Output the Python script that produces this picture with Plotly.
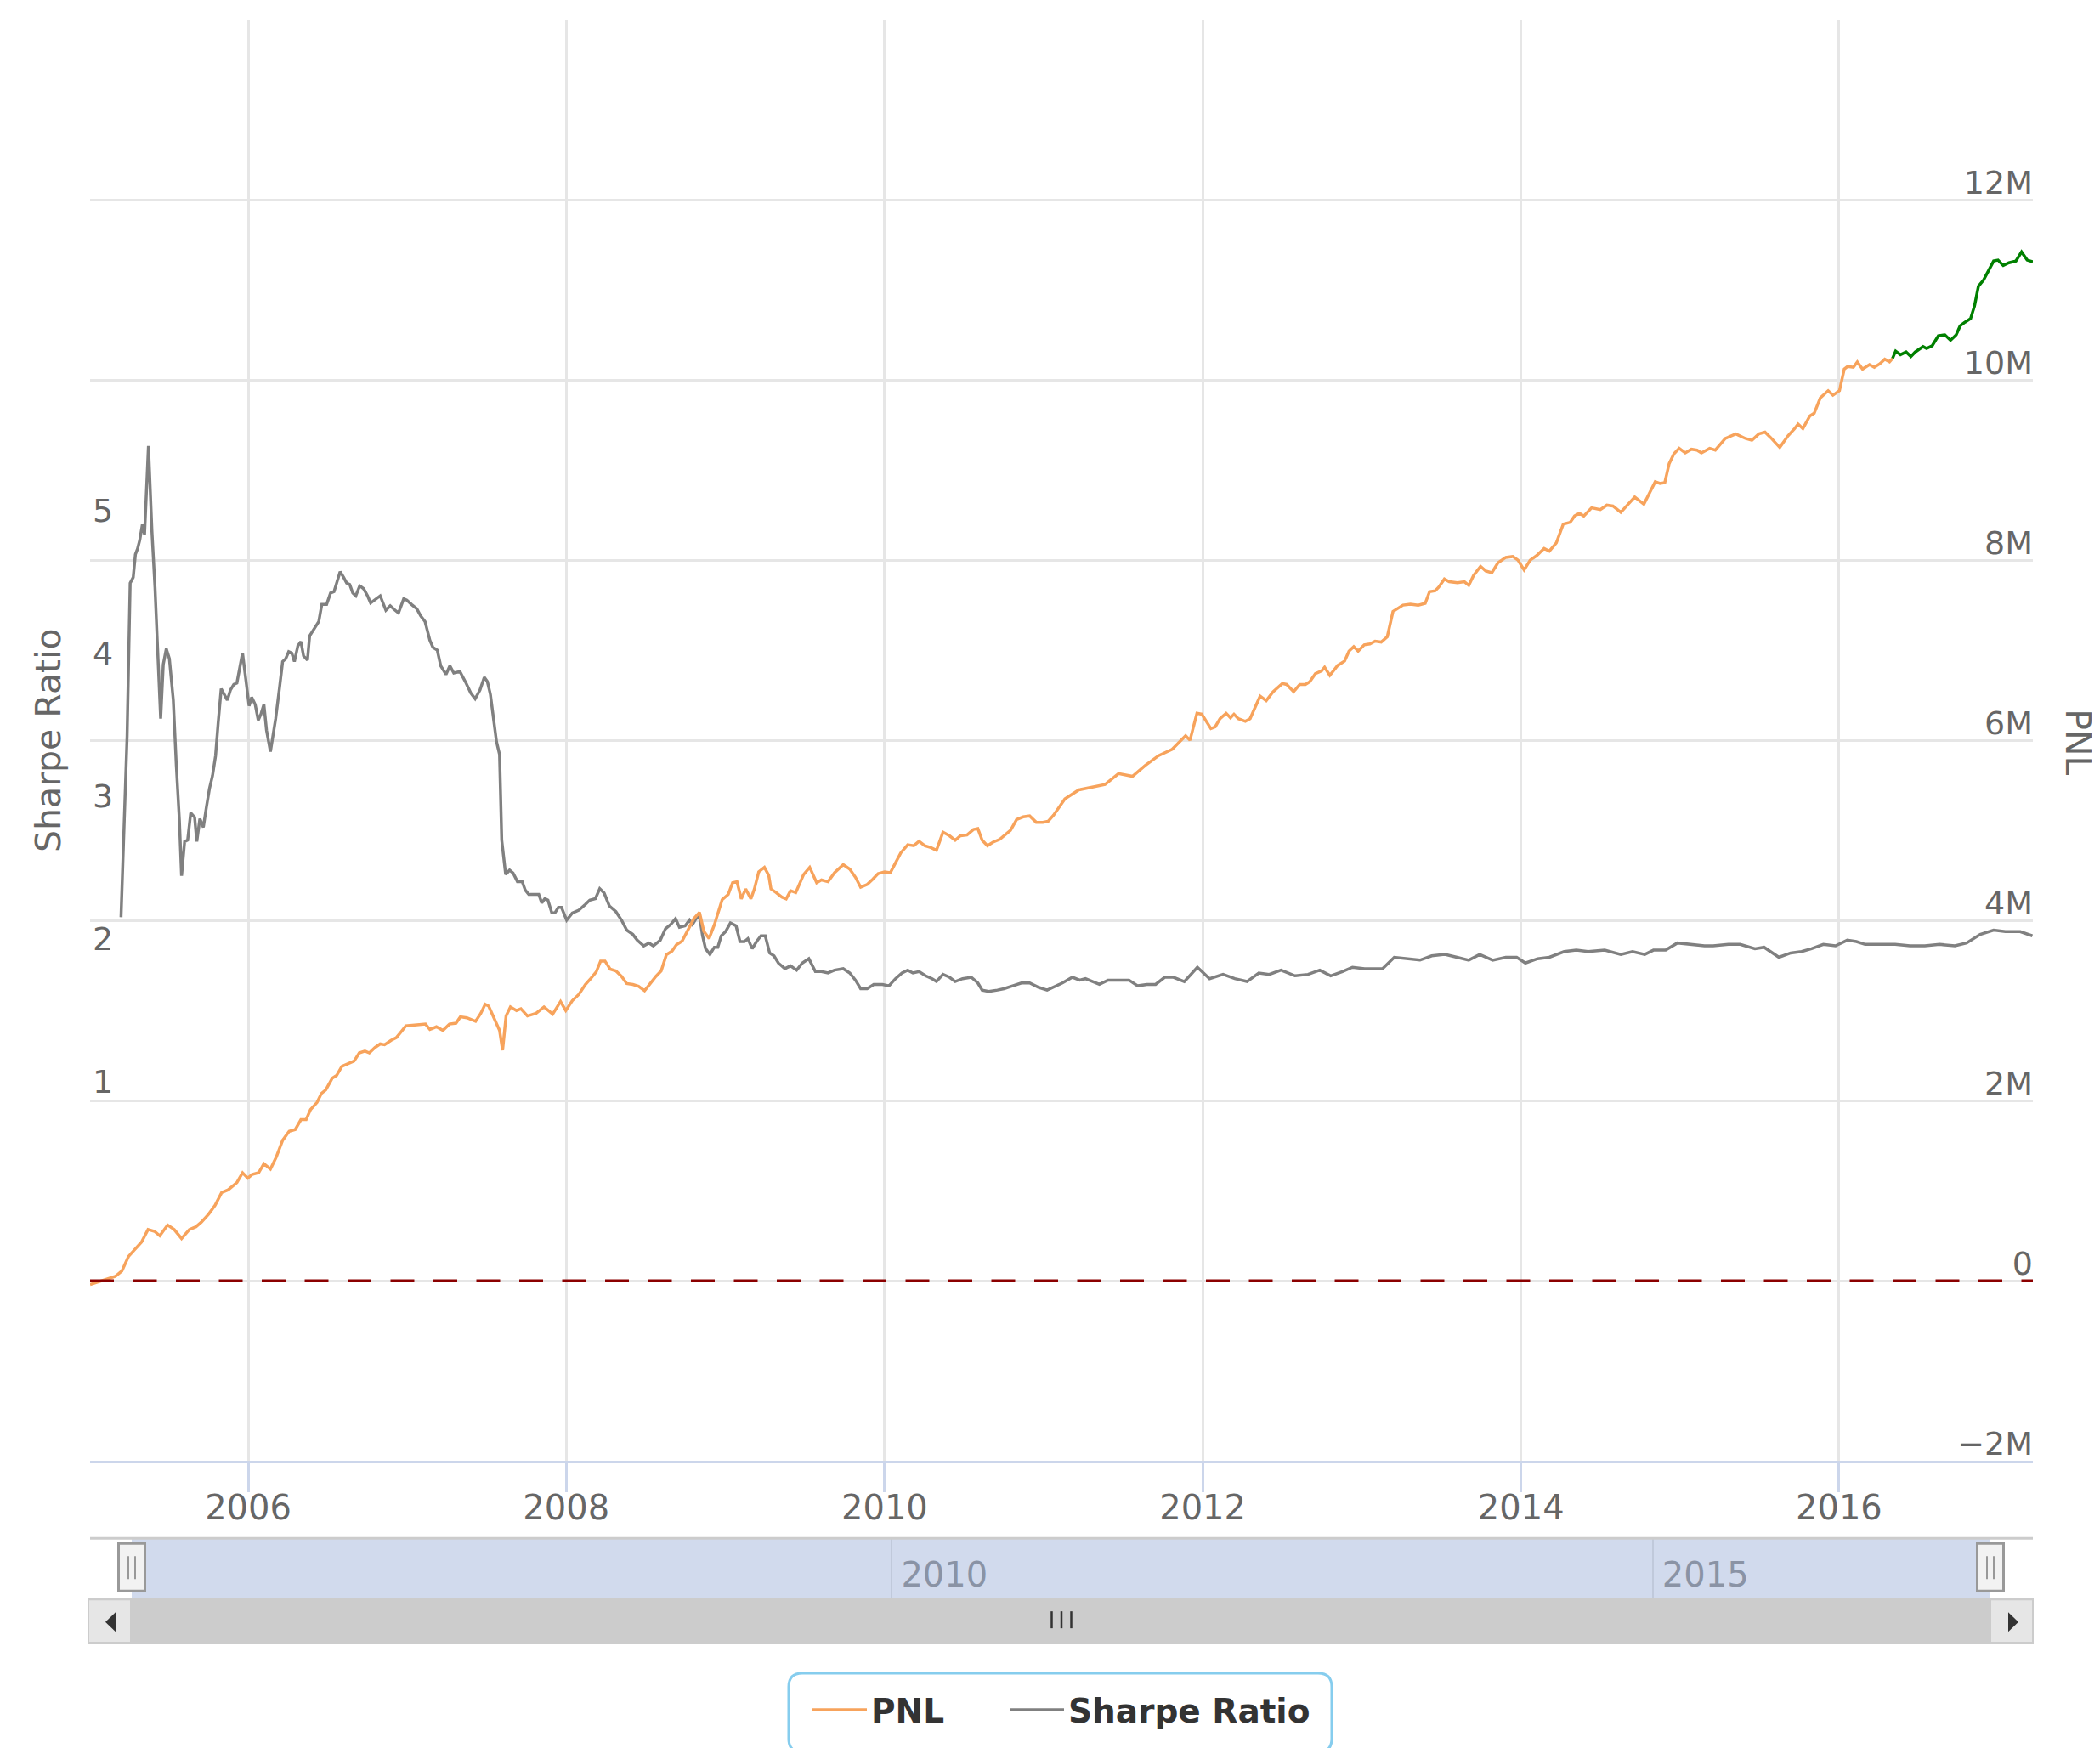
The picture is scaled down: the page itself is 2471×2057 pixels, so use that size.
import plotly.graph_objects as go

W, H = 2471, 2057

# ---------------- data ----------------
pnl_dates = [
    "2005-01-03", "2005-01-22", "2005-02-10", "2005-03-02", "2005-03-17", "2005-04-01", "2005-04-16", "2005-05-01",
    "2005-05-16", "2005-05-31", "2005-06-12", "2005-06-30", "2005-07-15", "2005-08-01", "2005-08-19", "2005-09-03",
    "2005-09-15", "2005-10-02", "2005-10-17", "2005-11-01", "2005-11-16", "2005-12-06", "2005-12-19", "2005-12-31",
    "2006-01-10", "2006-01-25", "2006-02-06", "2006-02-21", "2006-03-06", "2006-03-21", "2006-04-05", "2006-04-19",
    "2006-05-02", "2006-05-14", "2006-05-24", "2006-06-08", "2006-06-18", "2006-06-28", "2006-07-13", "2006-07-23",
    "2006-08-04", "2006-08-17", "2006-09-01", "2006-09-13", "2006-09-26", "2006-10-06", "2006-10-19", "2006-10-31",
    "2006-11-10", "2006-11-25", "2006-12-07", "2006-12-19", "2006-12-29", "2007-01-18", "2007-02-02", "2007-02-12",
    "2007-02-22", "2007-03-09", "2007-03-24", "2007-04-08", "2007-04-23", "2007-05-03", "2007-05-18", "2007-06-07",
    "2007-06-19", "2007-06-29", "2007-07-07", "2007-07-22", "2007-08-01", "2007-08-08", "2007-08-16", "2007-08-26",
    "2007-09-09", "2007-09-19", "2007-10-04", "2007-10-24", "2007-11-11", "2007-12-01", "2007-12-19", "2007-12-31",
    "2008-01-15", "2008-01-30", "2008-02-14", "2008-02-27", "2008-03-10", "2008-03-20", "2008-03-30", "2008-04-11",
    "2008-04-24", "2008-05-07", "2008-05-19", "2008-06-02", "2008-06-15", "2008-06-29", "2008-07-12", "2008-07-25",
    "2008-08-06", "2008-08-18", "2008-08-31", "2008-09-10", "2008-09-23", "2008-10-05", "2008-10-20", "2008-11-02",
    "2008-11-12", "2008-11-24", "2008-12-06", "2008-12-24", "2009-01-07", "2009-01-17", "2009-01-27", "2009-02-06",
    "2009-02-16", "2009-02-28", "2009-03-08", "2009-03-18", "2009-03-31", "2009-04-10", "2009-04-15", "2009-04-27",
    "2009-05-10", "2009-05-20", "2009-05-30", "2009-06-11", "2009-06-29", "2009-07-13", "2009-07-29", "2009-08-09",
    "2009-08-24", "2009-09-08", "2009-09-28", "2009-10-13", "2009-10-26", "2009-11-07", "2009-11-22", "2009-12-05",
    "2009-12-17", "2010-01-01", "2010-01-14", "2010-01-26", "2010-02-07", "2010-02-23", "2010-03-09", "2010-03-21",
    "2010-04-03", "2010-04-17", "2010-04-30", "2010-05-15", "2010-05-30", "2010-06-12", "2010-06-24", "2010-07-09",
    "2010-07-24", "2010-08-03", "2010-08-13", "2010-08-25", "2010-09-07", "2010-09-22", "2010-10-04", "2010-10-17",
    "2010-10-31", "2010-11-15", "2010-11-30", "2010-12-15", "2010-12-30", "2011-01-11", "2011-01-24", "2011-02-08",
    "2011-02-19", "2011-03-23", "2011-04-21", "2011-05-22", "2011-06-22", "2011-07-24", "2011-08-22", "2011-09-22",
    "2011-10-23", "2011-11-23", "2011-12-03", "2011-12-19", "2011-12-30", "2012-01-20", "2012-01-30", "2012-02-10",
    "2012-02-24", "2012-03-05", "2012-03-13", "2012-03-23", "2012-04-08", "2012-04-19", "2012-04-30", "2012-05-12",
    "2012-05-26", "2012-06-11", "2012-07-02", "2012-07-12", "2012-07-28", "2012-08-11", "2012-08-24", "2012-09-03",
    "2012-09-16", "2012-09-30", "2012-10-07", "2012-10-19", "2012-11-06", "2012-11-22", "2012-12-02", "2012-12-13",
    "2012-12-23", "2013-01-06", "2013-01-19", "2013-01-31", "2013-02-14", "2013-02-28", "2013-03-13", "2013-03-23",
    "2013-04-05", "2013-04-22", "2013-05-10", "2013-05-26", "2013-06-05", "2013-06-18", "2013-06-26", "2013-07-09",
    "2013-07-20", "2013-08-08", "2013-08-24", "2013-09-03", "2013-09-14", "2013-09-30", "2013-10-12", "2013-10-26",
    "2013-11-09", "2013-11-27", "2013-12-13", "2013-12-25", "2014-01-08", "2014-01-22", "2014-02-06", "2014-02-23",
    "2014-03-07", "2014-03-23", "2014-04-08", "2014-04-24", "2014-05-04", "2014-05-15", "2014-05-25", "2014-06-12",
    "2014-07-02", "2014-07-17", "2014-07-31", "2014-08-18", "2014-09-03", "2014-09-19", "2014-10-10", "2014-10-26",
    "2014-11-05", "2014-11-16", "2014-11-27", "2014-12-07", "2014-12-18", "2014-12-30", "2015-01-13", "2015-01-27",
    "2015-02-09", "2015-02-19", "2015-03-10", "2015-03-23", "2015-04-15", "2015-05-09", "2015-05-31", "2015-06-15",
    "2015-07-01", "2015-07-15", "2015-07-28", "2015-08-18", "2015-09-06", "2015-09-21", "2015-09-29", "2015-10-10",
    "2015-10-26", "2015-11-05", "2015-11-19", "2015-12-07", "2015-12-18", "2016-01-02", "2016-01-13", "2016-01-21",
    "2016-02-03", "2016-02-12", "2016-02-24", "2016-03-11", "2016-03-22", "2016-04-04", "2016-04-15", "2016-04-26",
    "2016-05-03", "2016-05-10", "2016-05-21", "2016-06-03", "2016-06-14", "2016-06-24", "2016-07-12", "2016-07-20",
    "2016-08-02", "2016-08-16", "2016-08-31", "2016-09-13", "2016-09-26", "2016-10-05", "2016-10-16", "2016-10-29",
    "2016-11-07", "2016-11-16", "2016-11-28", "2016-12-10", "2016-12-21", "2016-12-31", "2017-01-12", "2017-01-25",
    "2017-02-10", "2017-02-23", "2017-03-08", "2017-03-21",
]
pnl_musd = [
    -0.04, -0.01, 0.02, 0.05, 0.11, 0.27, 0.35, 0.43,
    0.57, 0.55, 0.50, 0.62, 0.57, 0.47, 0.57, 0.60,
    0.65, 0.74, 0.84, 0.98, 1.01, 1.09, 1.20, 1.14,
    1.18, 1.20, 1.30, 1.24, 1.37, 1.56, 1.66, 1.68,
    1.79, 1.79, 1.90, 1.98, 2.08, 2.12, 2.25, 2.28,
    2.38, 2.41, 2.44, 2.53, 2.55, 2.53, 2.59, 2.63,
    2.62, 2.67, 2.70, 2.77, 2.83, 2.84, 2.85, 2.85,
    2.79, 2.82, 2.78, 2.85, 2.86, 2.93, 2.92, 2.88,
    2.97, 3.07, 3.05, 2.88, 2.78, 2.56, 2.94, 3.04,
    3.00, 3.02, 2.94, 2.97, 3.04, 2.96, 3.10, 3.00,
    3.11, 3.18, 3.29, 3.36, 3.43, 3.55, 3.55, 3.46,
    3.44, 3.38, 3.30, 3.29, 3.27, 3.22, 3.30, 3.38,
    3.44, 3.62, 3.66, 3.73, 3.77, 3.88, 4.02, 4.09,
    3.88, 3.80, 3.95, 4.23, 4.29, 4.42, 4.43, 4.24,
    4.35, 4.24, 4.35, 4.54, 4.59, 4.50, 4.35, 4.31,
    4.26, 4.24, 4.33, 4.31, 4.51, 4.59, 4.42, 4.45,
    4.43, 4.53, 4.62, 4.57, 4.48, 4.37, 4.40, 4.46,
    4.52, 4.54, 4.53, 4.64, 4.75, 4.84, 4.83, 4.88,
    4.83, 4.81, 4.78, 4.98, 4.94, 4.89, 4.94, 4.95,
    5.01, 5.02, 4.89, 4.83, 4.87, 4.90, 4.95, 5.00,
    5.12, 5.15, 5.16, 5.09, 5.09, 5.10, 5.17, 5.27,
    5.35, 5.45, 5.48, 5.51, 5.63, 5.60, 5.72, 5.83,
    5.90, 6.05, 6.00, 6.30, 6.29, 6.13, 6.15, 6.24,
    6.30, 6.25, 6.29, 6.24, 6.21, 6.24, 6.36, 6.49,
    6.44, 6.54, 6.63, 6.62, 6.54, 6.62, 6.62, 6.65,
    6.74, 6.77, 6.81, 6.72, 6.83, 6.88, 6.99, 7.04,
    6.99, 7.06, 7.07, 7.10, 7.09, 7.15, 7.43, 7.46,
    7.50, 7.51, 7.50, 7.52, 7.65, 7.66, 7.70, 7.79,
    7.76, 7.75, 7.76, 7.72, 7.83, 7.93, 7.88, 7.86,
    7.97, 8.03, 8.04, 8.00, 7.89, 8.00, 8.05, 8.13,
    8.10, 8.19, 8.40, 8.42, 8.49, 8.52, 8.49, 8.58,
    8.56, 8.61, 8.60, 8.53, 8.62, 8.70, 8.62, 8.78,
    8.87, 8.85, 8.86, 9.07, 9.18, 9.24, 9.19, 9.23,
    9.22, 9.19, 9.24, 9.22, 9.35, 9.40, 9.35, 9.33,
    9.40, 9.42, 9.36, 9.25, 9.38, 9.46, 9.51, 9.46,
    9.60, 9.63, 9.80, 9.88, 9.83, 9.88, 10.12, 10.15,
    10.14, 10.20, 10.12, 10.17, 10.14, 10.18, 10.23, 10.20,
    10.24, 10.32, 10.28, 10.31, 10.26, 10.31, 10.37, 10.35,
    10.38, 10.49, 10.50, 10.44, 10.50, 10.60, 10.64, 10.68,
    10.82, 11.04, 11.11, 11.22, 11.32, 11.33, 11.27, 11.30,
    11.32, 11.42, 11.33, 11.31,
]
oos_start = "2016-05-03"  # PNL after this date is drawn in green

sharpe_dates = [
    "2005-03-15", "2005-03-22", "2005-03-29", "2005-04-05", "2005-04-12", "2005-04-17", "2005-04-22", "2005-04-27",
    "2005-05-03", "2005-05-08", "2005-05-17", "2005-05-25", "2005-06-01", "2005-06-08", "2005-06-14", "2005-06-20",
    "2005-06-27", "2005-07-04", "2005-07-13", "2005-07-20", "2005-07-27", "2005-08-01", "2005-08-08", "2005-08-15",
    "2005-08-22", "2005-08-31", "2005-09-05", "2005-09-12", "2005-09-20", "2005-09-27", "2005-10-04", "2005-10-11",
    "2005-10-18", "2005-10-24", "2005-10-31", "2005-11-14", "2005-11-21", "2005-11-29", "2005-12-06", "2005-12-19",
    "2005-12-27", "2006-01-03", "2006-01-09", "2006-01-17", "2006-01-24", "2006-01-30", "2006-02-06", "2006-02-12",
    "2006-02-21", "2006-03-05", "2006-03-14", "2006-03-21", "2006-03-28", "2006-04-04", "2006-04-11", "2006-04-17",
    "2006-04-25", "2006-05-02", "2006-05-08", "2006-05-17", "2006-05-22", "2006-06-02", "2006-06-12", "2006-06-19",
    "2006-06-30", "2006-07-09", "2006-07-17", "2006-07-24", "2006-07-31", "2006-08-08", "2006-08-15", "2006-08-22",
    "2006-08-29", "2006-09-05", "2006-09-14", "2006-09-23", "2006-10-02", "2006-10-09", "2006-10-19", "2006-10-31",
    "2006-11-13", "2006-11-23", "2006-12-04", "2006-12-12", "2006-12-24", "2006-12-31", "2007-01-11", "2007-01-23",
    "2007-02-01", "2007-02-11", "2007-02-22", "2007-03-01", "2007-03-11", "2007-03-19", "2007-03-31", "2007-04-09",
    "2007-04-18", "2007-05-02", "2007-05-16", "2007-05-27", "2007-06-06", "2007-06-17", "2007-06-27", "2007-07-04",
    "2007-07-11", "2007-07-18", "2007-07-25", "2007-08-01", "2007-08-06", "2007-08-15", "2007-08-24", "2007-09-01",
    "2007-09-11", "2007-09-22", "2007-09-29", "2007-10-07", "2007-10-19", "2007-10-30", "2007-11-06", "2007-11-13",
    "2007-11-20", "2007-11-29", "2007-12-06", "2007-12-14", "2007-12-21", "2008-01-02", "2008-01-15", "2008-01-30",
    "2008-02-14", "2008-02-24", "2008-03-08", "2008-03-18", "2008-03-28", "2008-04-09", "2008-04-24", "2008-05-07",
    "2008-05-19", "2008-06-02", "2008-06-12", "2008-06-27", "2008-07-09", "2008-07-19", "2008-08-04", "2008-08-16",
    "2008-08-28", "2008-09-08", "2008-09-17", "2008-09-30", "2008-10-10", "2008-10-17", "2008-10-25", "2008-11-02",
    "2008-11-09", "2008-11-16", "2008-11-26", "2008-12-06", "2008-12-14", "2008-12-22", "2009-01-01", "2009-01-12",
    "2009-01-25", "2009-02-03", "2009-02-13", "2009-02-21", "2009-03-03", "2009-03-13", "2009-03-23", "2009-04-02",
    "2009-04-12", "2009-04-22", "2009-05-02", "2009-05-17", "2009-05-30", "2009-06-13", "2009-06-26", "2009-07-11",
    "2009-07-26", "2009-08-09", "2009-08-24", "2009-09-08", "2009-09-28", "2009-10-13", "2009-10-26", "2009-11-07",
    "2009-11-22", "2009-12-07", "2009-12-27", "2010-01-11", "2010-01-26", "2010-02-10", "2010-02-23", "2010-03-07",
    "2010-03-21", "2010-04-05", "2010-04-20", "2010-04-30", "2010-05-15", "2010-05-30", "2010-06-12", "2010-06-29",
    "2010-07-19", "2010-08-03", "2010-08-13", "2010-08-28", "2010-09-17", "2010-10-02", "2010-10-22", "2010-11-11",
    "2010-11-30", "2010-12-20", "2011-01-09", "2011-01-24", "2011-02-13", "2011-03-08", "2011-03-25", "2011-04-07",
    "2011-04-24", "2011-05-09", "2011-05-29", "2011-06-18", "2011-07-16", "2011-08-05", "2011-08-26", "2011-09-15",
    "2011-10-06", "2011-10-26", "2011-11-20", "2011-12-20", "2012-01-17", "2012-02-17", "2012-03-15", "2012-04-12",
    "2012-05-09", "2012-06-02", "2012-06-29", "2012-07-31", "2012-08-30", "2012-09-26", "2012-10-21", "2012-11-17",
    "2012-12-10", "2013-01-07", "2013-02-17", "2013-03-16", "2013-04-12", "2013-05-14", "2013-06-10", "2013-07-10",
    "2013-08-07", "2013-09-03", "2013-09-28", "2013-10-28", "2013-11-27", "2013-12-22", "2014-01-11", "2014-02-08",
    "2014-03-07", "2014-04-10", "2014-05-08", "2014-06-04", "2014-07-12", "2014-08-18", "2014-09-14", "2014-10-12",
    "2014-11-01", "2014-11-29", "2014-12-26", "2015-01-29", "2015-02-26", "2015-03-18", "2015-04-22", "2015-05-19",
    "2015-06-22", "2015-07-13", "2015-08-16", "2015-09-12", "2015-10-07", "2015-10-30", "2015-11-26", "2015-12-24",
    "2016-01-20", "2016-02-10", "2016-03-01", "2016-04-05", "2016-05-09", "2016-06-12", "2016-07-16", "2016-08-19",
    "2016-09-23", "2016-10-20", "2016-11-20", "2016-12-21", "2017-01-17", "2017-02-20", "2017-03-20",
]
sharpe_values = [
    2.15, 2.87, 3.42, 4.49, 4.53, 4.69, 4.73, 4.79,
    4.90, 4.83, 5.45, 4.85, 4.46, 3.96, 3.54, 3.92,
    4.03, 3.96, 3.67, 3.21, 2.83, 2.44, 2.68, 2.69,
    2.88, 2.85, 2.68, 2.84, 2.78, 2.92, 3.05, 3.14,
    3.28, 3.51, 3.75, 3.67, 3.74, 3.78, 3.79, 4.00,
    3.78, 3.63, 3.69, 3.64, 3.53, 3.57, 3.64, 3.46,
    3.31, 3.54, 3.76, 3.94, 3.96, 4.01, 4.00, 3.94,
    4.05, 4.08, 3.98, 3.95, 4.12, 4.17, 4.22, 4.34,
    4.34, 4.42, 4.43, 4.50, 4.57, 4.53, 4.49, 4.48,
    4.42, 4.40, 4.47, 4.45, 4.40, 4.35, 4.37, 4.40,
    4.30, 4.33, 4.30, 4.28, 4.38, 4.37, 4.34, 4.31,
    4.26, 4.22, 4.09, 4.04, 4.02, 3.91, 3.85, 3.91,
    3.86, 3.87, 3.79, 3.72, 3.68, 3.74, 3.83, 3.80,
    3.71, 3.55, 3.38, 3.29, 2.69, 2.45, 2.48, 2.46,
    2.40, 2.40, 2.34, 2.31, 2.31, 2.31, 2.25, 2.28,
    2.27, 2.18, 2.18, 2.22, 2.22, 2.13, 2.18, 2.20,
    2.24, 2.27, 2.28, 2.35, 2.32, 2.23, 2.19, 2.13,
    2.06, 2.03, 1.99, 1.95, 1.97, 1.95, 1.99, 2.07,
    2.10, 2.14, 2.08, 2.09, 2.13, 2.10, 2.14, 2.16,
    2.02, 1.93, 1.89, 1.94, 1.94, 2.02, 2.05, 2.11,
    2.09, 1.98, 1.98, 2.00, 1.93, 1.98, 2.02, 2.02,
    1.90, 1.88, 1.83, 1.79, 1.81, 1.78, 1.83, 1.86,
    1.77, 1.77, 1.76, 1.78, 1.79, 1.76, 1.71, 1.65,
    1.65, 1.68, 1.68, 1.67, 1.72, 1.76, 1.78, 1.76,
    1.77, 1.74, 1.72, 1.70, 1.75, 1.73, 1.70, 1.72,
    1.73, 1.69, 1.64, 1.63, 1.64, 1.65, 1.67, 1.69,
    1.69, 1.66, 1.64, 1.66, 1.69, 1.73, 1.71, 1.72,
    1.70, 1.68, 1.71, 1.71, 1.71, 1.67, 1.68, 1.68,
    1.73, 1.73, 1.70, 1.80, 1.72, 1.75, 1.72, 1.70,
    1.76, 1.75, 1.78, 1.74, 1.75, 1.78, 1.74, 1.77,
    1.80, 1.79, 1.79, 1.87, 1.86, 1.85, 1.88, 1.89,
    1.87, 1.85, 1.89, 1.85, 1.87, 1.87, 1.83, 1.86,
    1.87, 1.91, 1.92, 1.91, 1.92, 1.89, 1.91, 1.89,
    1.92, 1.92, 1.97, 1.96, 1.95, 1.95, 1.96, 1.96,
    1.93, 1.94, 1.87, 1.90, 1.91, 1.93, 1.96, 1.95,
    1.99, 1.98, 1.96, 1.96, 1.96, 1.95, 1.95, 1.96,
    1.95, 1.97, 2.03, 2.06, 2.05, 2.05, 2.02,
]

pnl_tickvals = [-2, 0, 2, 4, 6, 8, 10, 12, 14]
pnl_ticktext = ["\u22122M", "0", "2M", "4M", "6M", "8M", "10M", "12M", ""]
sharpe_tickvals = [1, 2, 3, 4, 5]

# ---------------- layout geometry (pixels) ----------------
def px(x):
    return x / W


def py(y):
    return 1 - y / H


PL, PR, PT, PB = 106, 2392, 23, 1721                 # main plot area
NAV_L, NAV_R, NAV_T, NAV_B = 155, 2342, 1812, 1883   # navigator data extent
SB_T, SB_B = 1883, 1936                              # scrollbar

FONT = "DejaVu Sans"
LABEL = "#666666"

# ---------------- traces ----------------
is_pnl_is = [d <= oos_start for d in pnl_dates]
is_pnl_oos = [d >= oos_start for d in pnl_dates]

fig = go.Figure()
fig.add_trace(go.Scatter(
    x=[d for d, k in zip(pnl_dates, is_pnl_is) if k],
    y=[v for v, k in zip(pnl_musd, is_pnl_is) if k],
    name="PNL", mode="lines", line=dict(color="#f7a35c", width=3.5),
    xaxis="x", yaxis="y2", legend="legend"))
fig.add_trace(go.Scatter(
    x=[d for d, k in zip(pnl_dates, is_pnl_oos) if k],
    y=[v for v, k in zip(pnl_musd, is_pnl_oos) if k],
    name="PNL", mode="lines", line=dict(color="#008000", width=3.5),
    xaxis="x", yaxis="y2", showlegend=False))
fig.add_trace(go.Scatter(
    x=sharpe_dates, y=sharpe_values, name="Sharpe Ratio", mode="lines",
    line=dict(color="#808080", width=3.5), xaxis="x", yaxis="y", legend="legend2"))
# navigator series (drawn with no line, as in the reference)
fig.add_trace(go.Scatter(
    x=pnl_dates, y=pnl_musd, name="Navigator", mode="lines",
    line=dict(color="#f7a35c", width=0), xaxis="x2", yaxis="y3",
    showlegend=False, hoverinfo="skip"))

# ---------------- shapes (decoration: zero line, navigator, scrollbar, legend box) ----------------
shapes = []
# PNL = 0 plot line
shapes.append(dict(type="line", xref="x domain", yref="y2", x0=0, x1=1, y0=0, y1=0,
                   line=dict(color="#8b0000", width=3.5, dash="28px,22.5px"), layer="above"))
# navigator mask
shapes.append(dict(type="rect", xref="x2 domain", yref="y3 domain", x0=0, x1=1, y0=0, y1=1,
                   fillcolor="#d1daed", line=dict(width=0), layer="below"))
# navigator outline (top)
shapes.append(dict(type="line", xref="paper", yref="paper", x0=px(PL), x1=px(PR), y0=py(NAV_T), y1=py(NAV_T),
                   line=dict(color="#cccccc", width=3), layer="above"))
# scrollbar track / thumb
shapes.append(dict(type="rect", xref="paper", yref="paper", x0=px(PL - 2), x1=px(PR), y0=py(SB_B), y1=py(SB_T),
                   fillcolor="#cccccc", line=dict(color="#cccccc", width=2), layer="above"))
# scrollbar buttons
for bx0, bx1 in ((PL - 2, NAV_L - 1), (NAV_R, PR)):
    shapes.append(dict(type="rect", xref="paper", yref="paper", x0=px(bx0), x1=px(bx1), y0=py(SB_B - 1), y1=py(SB_T + 1),
                       fillcolor="#e6e6e6", line=dict(color="#cccccc", width=2), layer="above"))


def tri(points):
    p = " L ".join(f"{px(a):.6f},{py(b):.6f}" for a, b in points)
    return "M " + p + " Z"


# scrollbar arrows
shapes.append(dict(type="path", xref="paper", yref="paper", path=tri([(136, 1899), (136, 1922), (124, 1910.5)]),
                   fillcolor="#333333", line=dict(width=0), layer="above"))
shapes.append(dict(type="path", xref="paper", yref="paper", path=tri([(2363, 1899), (2363, 1922), (2375, 1910.5)]),
                   fillcolor="#333333", line=dict(width=0), layer="above"))
# scrollbar rifles
for dx in (-11.5, 0, 11.5):
    shapes.append(dict(type="line", xref="x domain", yref="paper", xsizemode="pixel", xanchor=0.5,
                       x0=dx, x1=dx, y0=py(1918), y1=py(1898),
                       line=dict(color="#333333", width=2.5), layer="above"))
# navigator handles
for anchor in (0, 1):
    shapes.append(dict(type="rect", xref="x2 domain", yref="paper", xsizemode="pixel", xanchor=anchor,
                       x0=-15.5, x1=15.5, y0=py(1874), y1=py(1818),
                       fillcolor="#f2f2f2", line=dict(color="#999999", width=3), layer="above"))
    for dx in (-4, 4):
        shapes.append(dict(type="line", xref="x2 domain", yref="paper", xsizemode="pixel", xanchor=anchor,
                           x0=dx, x1=dx, y0=py(1860), y1=py(1833),
                           line=dict(color="#999999", width=2), layer="above"))


def rounded(x0, y0, x1, y1, r):
    P = lambda a, b: f"{px(a):.6f},{py(b):.6f}"
    return (f"M {P(x0 + r, y0)} L {P(x1 - r, y0)} Q {P(x1, y0)} {P(x1, y0 + r)} "
            f"L {P(x1, y1 - r)} Q {P(x1, y1)} {P(x1 - r, y1)} L {P(x0 + r, y1)} "
            f"Q {P(x0, y1)} {P(x0, y1 - r)} L {P(x0, y0 + r)} Q {P(x0, y0)} {P(x0 + r, y0)} Z")


# legend rounded box
shapes.append(dict(type="path", xref="paper", yref="paper", path=rounded(928, 1971, 1567, 2064, 16),
                   line=dict(color="#86cdee", width=3), fillcolor="rgba(0,0,0,0)", layer="below"))

legend_common = dict(orientation="h", xanchor="left", yanchor="middle", y=py(2014),
                     font=dict(family=FONT, size=39, color="#333333", weight="bold"),
                     bgcolor="rgba(0,0,0,0)", borderwidth=0, itemwidth=64)

# ---------------- layout ----------------
fig.update_layout(
    width=W, height=H,
    margin=dict(l=0, r=0, t=0, b=0, pad=0),
    paper_bgcolor="white", plot_bgcolor="white",
    font=dict(family=FONT, color=LABEL, size=36),
    showlegend=True,
    legend=dict(x=px(951), **legend_common),
    legend2=dict(x=px(1183), **legend_common),
    xaxis=dict(domain=[px(PL), px(PR)], anchor="y", type="date",
               range=[pnl_dates[0], pnl_dates[-1]],
               tick0="2006-01-01", dtick="M24", tickformat="%Y",
               showgrid=True, gridcolor="#e6e6e6", gridwidth=3,
               showline=True, linecolor="#ccd6eb", linewidth=3,
               ticks="outside", ticklen=34, tickwidth=3, tickcolor="#ccd6eb",
               tickfont=dict(size=40, color=LABEL), ticklabelstandoff=-16,
               zeroline=False, fixedrange=True),
    yaxis=dict(domain=[py(PB), py(PT)], anchor="x", range=[-1.657, 8.435],
               tickvals=sharpe_tickvals, showgrid=False, zeroline=False, showline=False,
               ticks="", ticklabelposition="inside", tickfont=dict(size=38, color=LABEL),
               title=dict(text="Sharpe Ratio", font=dict(size=41, color=LABEL), standoff=24),
               fixedrange=True),
    yaxis2=dict(overlaying="y", side="right", anchor="x", range=[-2, 14],
                tickvals=pnl_tickvals, ticktext=pnl_ticktext,
                showgrid=True, gridcolor="#e6e6e6", gridwidth=3, zeroline=False, showline=False,
                ticks="", ticklabelposition="inside top", tickfont=dict(size=38, color=LABEL),
                ticklabelshift=6, ticklabelstandoff=-3, ticklabeloverflow="allow",
                fixedrange=True),
    xaxis2=dict(domain=[px(NAV_L), px(NAV_R)], anchor="y3", type="date",
                range=[pnl_dates[0], pnl_dates[-1]],
                tick0="2005-01-01", dtick="M60", tickformat="%Y",
                showgrid=True, gridcolor="#c0c9db", gridwidth=2,
                ticks="", showline=False, zeroline=False,
                ticklabelposition="inside right", tickfont=dict(size=40, color="#8a93a5"),
                ticklabelshift=11, fixedrange=True),
    yaxis3=dict(domain=[py(NAV_B), py(NAV_T)], anchor="x2", range=[-2, 14], visible=False, fixedrange=True),
    shapes=shapes,
    annotations=[dict(text="PNL", x=px(2445), y=py(874), xref="paper", yref="paper",
                      showarrow=False, textangle=90, xanchor="center", yanchor="middle",
                      font=dict(size=41, color=LABEL, family=FONT))],
)

fig.write_html("out.html", config={"displayModeBar": False},
               post_script="document.body.style.margin='0';document.body.style.overflow='hidden';")
